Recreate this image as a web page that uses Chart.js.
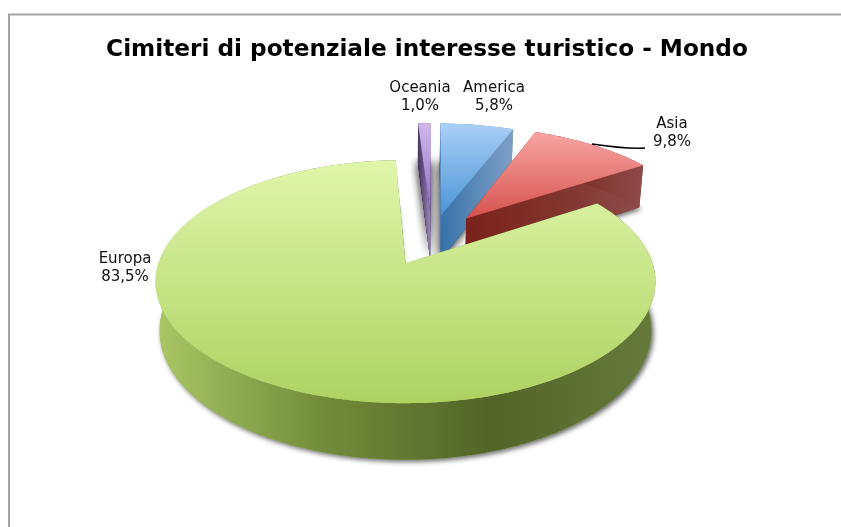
<!DOCTYPE html>
<html>
<head>
<meta charset="utf-8">
<style>html,body{margin:0;padding:0;background:#fff}canvas{display:block}</style>
<script src="https://cdn.jsdelivr.net/npm/chart.js@4"></script>
</head>
<body>
<div style="width:841px;height:527px;position:relative"><canvas id="c" width="841" height="527"></canvas></div>
<script>
const chartTitle = "Cimiteri di potenziale interesse turistico - Mondo";
const categories = ["America", "Asia", "Europa", "Oceania"];
const values = [5.8, 9.8, 83.5, 1.0];
const explode = [0.22, 0.235, 0.243, 0.22];
const topColors = [["#a9cff6", "#4b95d6"], ["#f9a5a3", "#d5524d"], ["#e0f6aa", "#add262"], ["#d0b8ec", "#8f68bd"]];
const sideColors = [
  ["#3672aa", "#5c8ab8", "#7f9fc6"],
  ["#7a221b", "#80332c", "#8e4c4a"],
  ["#a9c766", "#728c3a", "#516528", "#667a3c"],
  ["#463462", "#6c5a8a", "#9d8ab8"]
];
const drawOrder = [3, 0, 1, 2];
const shadowPasses = [3, 1, 1, 3];

// Projection of the pie plane to the page (camera perspective)
const P = {cx: 407, cy: 263, A: 247, B: 118.7, p: 0.152, D: 48, shrink: 0.984, ox: 0.105, oy: -0.215};
function proj(X, Y, low) {
  const den = 1 - P.p * Y;
  const k = low ? P.shrink : 1;
  return [P.cx + P.A * X / den * k, P.cy + P.B * Y / den + (low ? P.D / den : 0)];
}
function tracePts(ctx, pts) {
  ctx.beginPath();
  pts.forEach((q, i) => i ? ctx.lineTo(q[0], q[1]) : ctx.moveTo(q[0], q[1]));
  ctx.closePath();
}
function hGrad(ctx, pts, cols) {
  const xs = pts.map(q => q[0]), a = Math.min(...xs), b = Math.max(...xs);
  const g = ctx.createLinearGradient(a, 0, b, 0);
  cols.forEach((c, i) => g.addColorStop(i / (cols.length - 1), c));
  return g;
}
function vGrad(ctx, pts, cols) {
  const ys = pts.map(q => q[1]), a = Math.min(...ys), b = Math.max(...ys);
  const g = ctx.createLinearGradient(0, a, 0, b);
  cols.forEach((c, i) => g.addColorStop(i / (cols.length - 1), c));
  return g;
}
function fmt(v) { return v.toFixed(1).replace(".", ",") + "%"; }

const pie3d = {
  id: "pie3d",
  beforeDraw(chart) {
    const ctx = chart.ctx;
    ctx.save();
    ctx.strokeStyle = "#a3a3a3";
    ctx.lineWidth = 2;
    ctx.beginPath();
    ctx.moveTo(9, chart.height);
    ctx.lineTo(9, 14.5);
    ctx.lineTo(chart.width, 14.5);
    ctx.stroke();
    ctx.restore();
  },
  beforeDatasetDraw(chart) {
    const ctx = chart.ctx;
    const arcs = chart.getDatasetMeta(0).data;
    drawOrder.forEach(i => {
      const arc = arcs[i];
      const a0 = arc.startAngle, a1 = arc.endAngle;
      const mid = (a0 + a1) / 2;
      const ax = P.ox + explode[i] * Math.cos(mid), ay = P.oy + explode[i] * Math.sin(mid);
      const n = Math.max(6, Math.round((a1 - a0) * 60));
      const rim = [];
      for (let k = 0; k <= n; k++) {
        const t = a0 + (a1 - a0) * k / n;
        rim.push([ax + Math.cos(t), ay + Math.sin(t)]);
      }
      const topRim = rim.map(q => proj(q[0], q[1], false));
      const lowRim = rim.map(q => proj(q[0], q[1], true));
      const apexT = proj(ax, ay, false), apexL = proj(ax, ay, true);
      const topPoly = [apexT, ...topRim];
      const lowPoly = [apexL, ...lowRim];

      // base with soft shadow
      const wide = shadowPasses[i] > 1;
      for (let s = 0; s < shadowPasses[i]; s++) {
        ctx.save();
        ctx.shadowColor = wide ? "rgba(0,0,0,0.42)" : "rgba(0,0,0,0.6)";
        ctx.shadowBlur = wide ? 10 : 5;
        ctx.shadowOffsetX = wide ? 0 : 2;
        ctx.shadowOffsetY = wide ? 0 : 2;
        tracePts(ctx, lowPoly);
        ctx.fillStyle = sideColors[i][0];
        ctx.fill();
        ctx.restore();
      }

      // radial faces
      const faceA = [apexT, topRim[0], lowRim[0], apexL];
      const faceB = [apexT, topRim[n], lowRim[n], apexL];
      [faceA, faceB].forEach(f => {
        tracePts(ctx, f);
        ctx.fillStyle = hGrad(ctx, f, sideColors[i]);
        ctx.fill();
      });
      // outer wall
      const wall = [...topRim, ...lowRim.slice().reverse()];
      tracePts(ctx, wall);
      ctx.fillStyle = hGrad(ctx, wall, sideColors[i]);
      ctx.fill();
      // top face
      tracePts(ctx, topPoly);
      ctx.fillStyle = vGrad(ctx, topPoly, topColors[i]);
      ctx.fill();
    });
    return false;
  },
  afterDatasetsDraw(chart) {
    const ctx = chart.ctx;
    ctx.save();
    // Asia leader line
    ctx.strokeStyle = "#000";
    ctx.lineWidth = 1.5;
    ctx.beginPath();
    ctx.moveTo(592, 144);
    ctx.quadraticCurveTo(625, 149, 645, 148);
    ctx.stroke();
    // data labels
    const labelAt = {America: [494, 88], Asia: [672, 124], Europa: [125, 259], Oceania: [420, 88]};
    ctx.font = "15px 'DejaVu Sans'";
    ctx.fillStyle = "#111";
    ctx.textAlign = "center";
    ctx.textBaseline = "middle";
    categories.forEach((c, i) => {
      const q = labelAt[c];
      ctx.fillText(c, q[0], q[1]);
      ctx.fillText(fmt(values[i]), q[0], q[1] + 18);
    });
    ctx.restore();
  }
};

new Chart(document.getElementById("c"), {
  type: "pie",
  plugins: [pie3d],
  data: {labels: categories, datasets: [{data: values, backgroundColor: topColors.map(c => c[0]), borderWidth: 0}]},
  options: {
    responsive: false,
    animation: false,
    rotation: 0.9,
    layout: {padding: {left: 13}},
    plugins: {
      legend: {display: false},
      tooltip: {enabled: false},
      title: {
        display: true,
        text: chartTitle,
        color: "#000",
        font: {family: "'DejaVu Sans'", size: 23.2, weight: "bold"},
        padding: {top: 36, bottom: 10}
      }
    }
  }
});
</script>
</body>
</html>
